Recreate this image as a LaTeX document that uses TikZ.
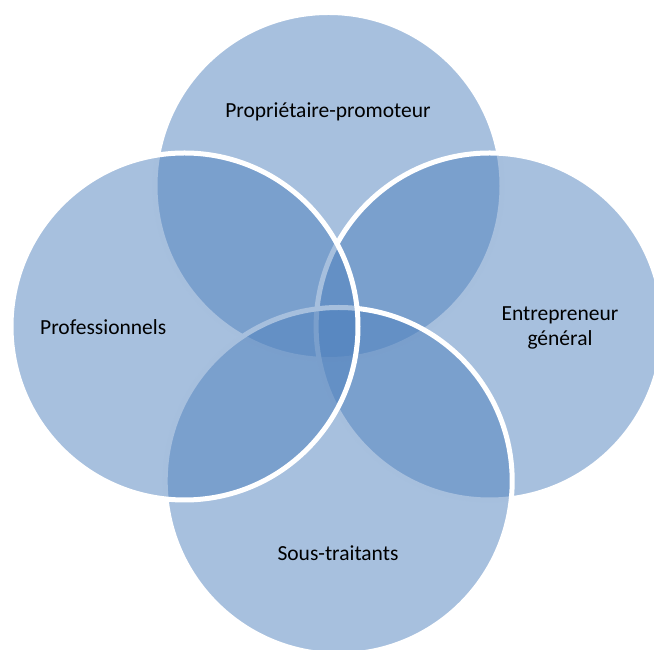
\documentclass[tikz,border=0pt]{standalone}
\usepackage{fontspec}
\setmainfont{Carlito}
\definecolor{accent}{HTML}{4F81BD}
\begin{document}
\begin{tikzpicture}[x=1pt,y=1pt,
  venn/.style={circle, minimum size=347pt, inner sep=0pt, fill=accent, fill opacity=0.5, draw=white, draw opacity=1, line width=5pt},
  lbl/.style={font=\fontsize{21.5}{25}\selectfont, text=black, align=center, inner sep=0pt}]
\useasboundingbox (0,0) rectangle (654,650);
\clip (0,0) rectangle (654,650);
% y coordinates are 650 - image y
\node[venn] (ctop) at (328.5,464) {};
\node[venn] (cright) at (489.6,323.5) {};
\node[venn] (cbottom) at (338.7,169) {};
\node[venn] (cleft) at (184.5,323.5) {};
\node[lbl] (ltop) at (328,538) {Propriétaire-promoteur};
\node[lbl, anchor=west] (lleft) at (40,323) {Professionnels};
\node[lbl] (lright) at (560,322) {Entrepreneur\\général};
\node[lbl] (lbottom) at (338,97) {Sous-traitants};
\end{tikzpicture}
\end{document}
